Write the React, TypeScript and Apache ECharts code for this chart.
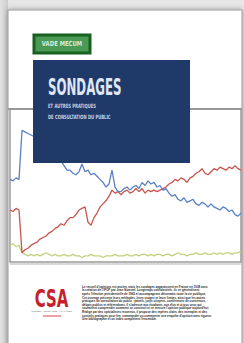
import React, { useEffect, useRef } from "react";
import * as echarts from "echarts";

// Poll series (percent)
const blueSeries = [54,53,55,54,86,85,84,83,82,80,81,78,77,75,73,72,69,66,63,60,60,58,57,59,64,59,60,57,58,56,54,52,49,51,60,49,46,46,48,49,47,49,50,48,52,50,53,51,52,49,50,47,48,45,43,44,41,40,42,39,40,41,38,37,39,38,36,38,36,35,34,36,35,33,34,31,30,32];
const redSeries = [34,33,35,34,6,8,9,11,12,13,15,16,17,19,20,22,23,25,24,27,29,29,31,34,35,36,26,24,29,32,36,38,40,43,47,45,46,44,46,47,45,46,48,46,48,45,47,46,47,46,47,48,49,51,52,54,53,55,54,52,55,56,58,59,61,58,57,59,61,60,62,61,60,62,61,63,61,60];
const greenSeries = [11,12,10,11,6,5,4,5,4,5,4,5,6,5,4,5,4,4,5,4,4,5,4,4,3,4,4,5,4,4,4,3,4,4,4,5,4,4,4,5,4,4,5,4,5,5,4,5,4,5,5,4,5,5,4,5,6,5,5,4,5,5,6,5,5,6,5,5,6,5,6,5,6,6,5,6,6,7];
const categories = blueSeries.map((_, i) => String(i + 1));

const labelText = "VADE MECUM";
const titleText = "SONDAGES";
const subtitleLines = ["ET AUTRES PRATIQUES", "DE CONSULTATION DU PUBLIC"];
const logoText = "CSA";
const logoSub = "CONSEIL · SONDAGES · ANALYSES";
const blurbLines = [
  "Le recueil d'opinions est ancien, mais les sondages apparaissent en France en 1938 avec",
  "la création de l'IFOP par Jean Stoetzel. Longtemps confidentiels, ils se généralisent",
  "après l'élection présidentielle de 1965 et accompagnent désormais toute la vie publique.",
  "Cet ouvrage présente leurs méthodes, leurs usages et leurs limites, ainsi que les autres",
  "pratiques de consultation du public : panels, jurys citoyens, conférences de consensus,",
  "débats publics et référendums. Il s'adresse aux étudiants, aux élus et à tous ceux qui",
  "souhaitent comprendre comment se construit et se mesure l'opinion publique aujourd'hui.",
  "Rédigé par des spécialistes reconnus, il propose des repères clairs, des exemples et des",
  "conseils pratiques pour lire, commander ou commenter une enquête d'opinion avec rigueur.",
  "Une bibliographie et un index complètent l'ensemble.",
];

export default function App() {
  const ref = useRef<HTMLDivElement>(null);
  useEffect(() => {
    document.body.style.margin = "0";
    const chart = echarts.init(ref.current!, null, { renderer: "svg" });
    const narrow = "'Liberation Sans Narrow', 'DejaVu Sans Condensed', sans-serif";
    const graphic: any[] = [
      { type: "rect", z: -20, shape: { x: 0, y: 0, width: 8, height: 343 },
        style: { fill: new echarts.graphic.LinearGradient(0, 0, 1, 0, [{ offset: 0, color: "#e2e2e2" }, { offset: 1, color: "#cdcdcd" }]) } },
      { type: "rect", z: -19, shape: { x: 8, y: 10, width: 234, height: 340 },
        style: { fill: "#ffffff", stroke: "#9c9c9c", lineWidth: 1, shadowBlur: 5, shadowColor: "rgba(0,0,0,0.35)" } },
      { type: "rect", z: -18, shape: { x: 10, y: 109, width: 231, height: 153 },
        style: { fill: "none", stroke: "#9a9a9a", lineWidth: 1.5 } },
      { type: "line", z: -18, shape: { x1: 8, y1: 109, x2: 242, y2: 109 }, style: { stroke: "#8e8e8e", lineWidth: 1.5 } },
      { type: "line", z: -18, shape: { x1: 10, y1: 264, x2: 241, y2: 264 }, style: { stroke: "#b0b0b0", lineWidth: 1 } },
      // green label
      { type: "rect", z: 60, shape: { x: 34, y: 35, width: 56, height: 18 },
        style: { fill: "#4a9a55", stroke: "#17601f", lineWidth: 3 } },
      { type: "text", z: 61, x: 62, y: 44, scaleX: 0.85,
        style: { text: labelText, fill: "#dcebd6", fontFamily: narrow, fontWeight: "bold", fontSize: 7, align: "center", verticalAlign: "middle" } },
      // blue title box
      { type: "rect", z: 60, shape: { x: 33, y: 60, width: 157, height: 103 }, style: { fill: "#1f3a68" } },
      { type: "text", z: 61, x: 48, y: 75, scaleX: 0.57, scaleY: 1,
        style: { text: titleText, fill: "#dfe7f6", fontFamily: narrow, fontWeight: "bold", fontSize: 23, align: "left", verticalAlign: "top" } },
      ...subtitleLines.map((t, i) => ({
        type: "text", z: 61, x: 48, y: 103 + i * 11, scaleX: 0.72,
        style: { text: t, fill: "#c9d3e6", fontFamily: narrow, fontWeight: "bold", fontSize: 5.8, align: "left", verticalAlign: "top" },
      })),
      // CSA logo
      { type: "text", z: 10, x: 51.5, y: 287, scaleX: 0.72, scaleY: 1.05,
        style: { text: logoText, fill: "#c8202a", fontFamily: narrow, fontWeight: "bold", fontSize: 23, align: "center", verticalAlign: "top" } },
      { type: "text", z: 10, x: 51.5, y: 310,
        style: { text: logoSub, fill: "#777", fontFamily: "'Liberation Sans', sans-serif", fontSize: 2.4, align: "center", verticalAlign: "top" } },
      { type: "line", z: 10, shape: { x1: 43, y1: 316, x2: 61, y2: 316 }, style: { stroke: "#d9454c", lineWidth: 1 } },
      ...blurbLines.map((t, i) => ({
        type: "text", z: 10, x: 82, y: 285 + i * 3.65, scaleX: 0.9,
        style: { text: t, fill: "#2a2a2a", fontFamily: "'Liberation Sans', sans-serif", fontWeight: "bold", fontSize: 3.3, align: "left", verticalAlign: "top" },
      })),
    ];
    chart.setOption({
      animation: false,
      backgroundColor: "#e6e6e6",
      grid: { left: 10, right: 3, top: 109, bottom: 81 },
      xAxis: { type: "category", data: categories, boundaryGap: false, show: false },
      yAxis: { type: "value", min: 0, max: 100, show: false, splitLine: { show: false } },
      graphic,
      series: [
        { type: "line", data: greenSeries, symbol: "none", z: 3, lineStyle: { color: "#c4cf7c", width: 1.2 } },
        { type: "line", data: redSeries, symbol: "none", z: 4, lineStyle: { color: "#c9544e", width: 1.3 } },
        { type: "line", data: blueSeries, symbol: "none", z: 5, lineStyle: { color: "#5a80c6", width: 1.3 } },
      ],
    });
    return () => chart.dispose();
  }, []);
  return <div ref={ref} style={{ width: 244, height: 343 }} />;
}
